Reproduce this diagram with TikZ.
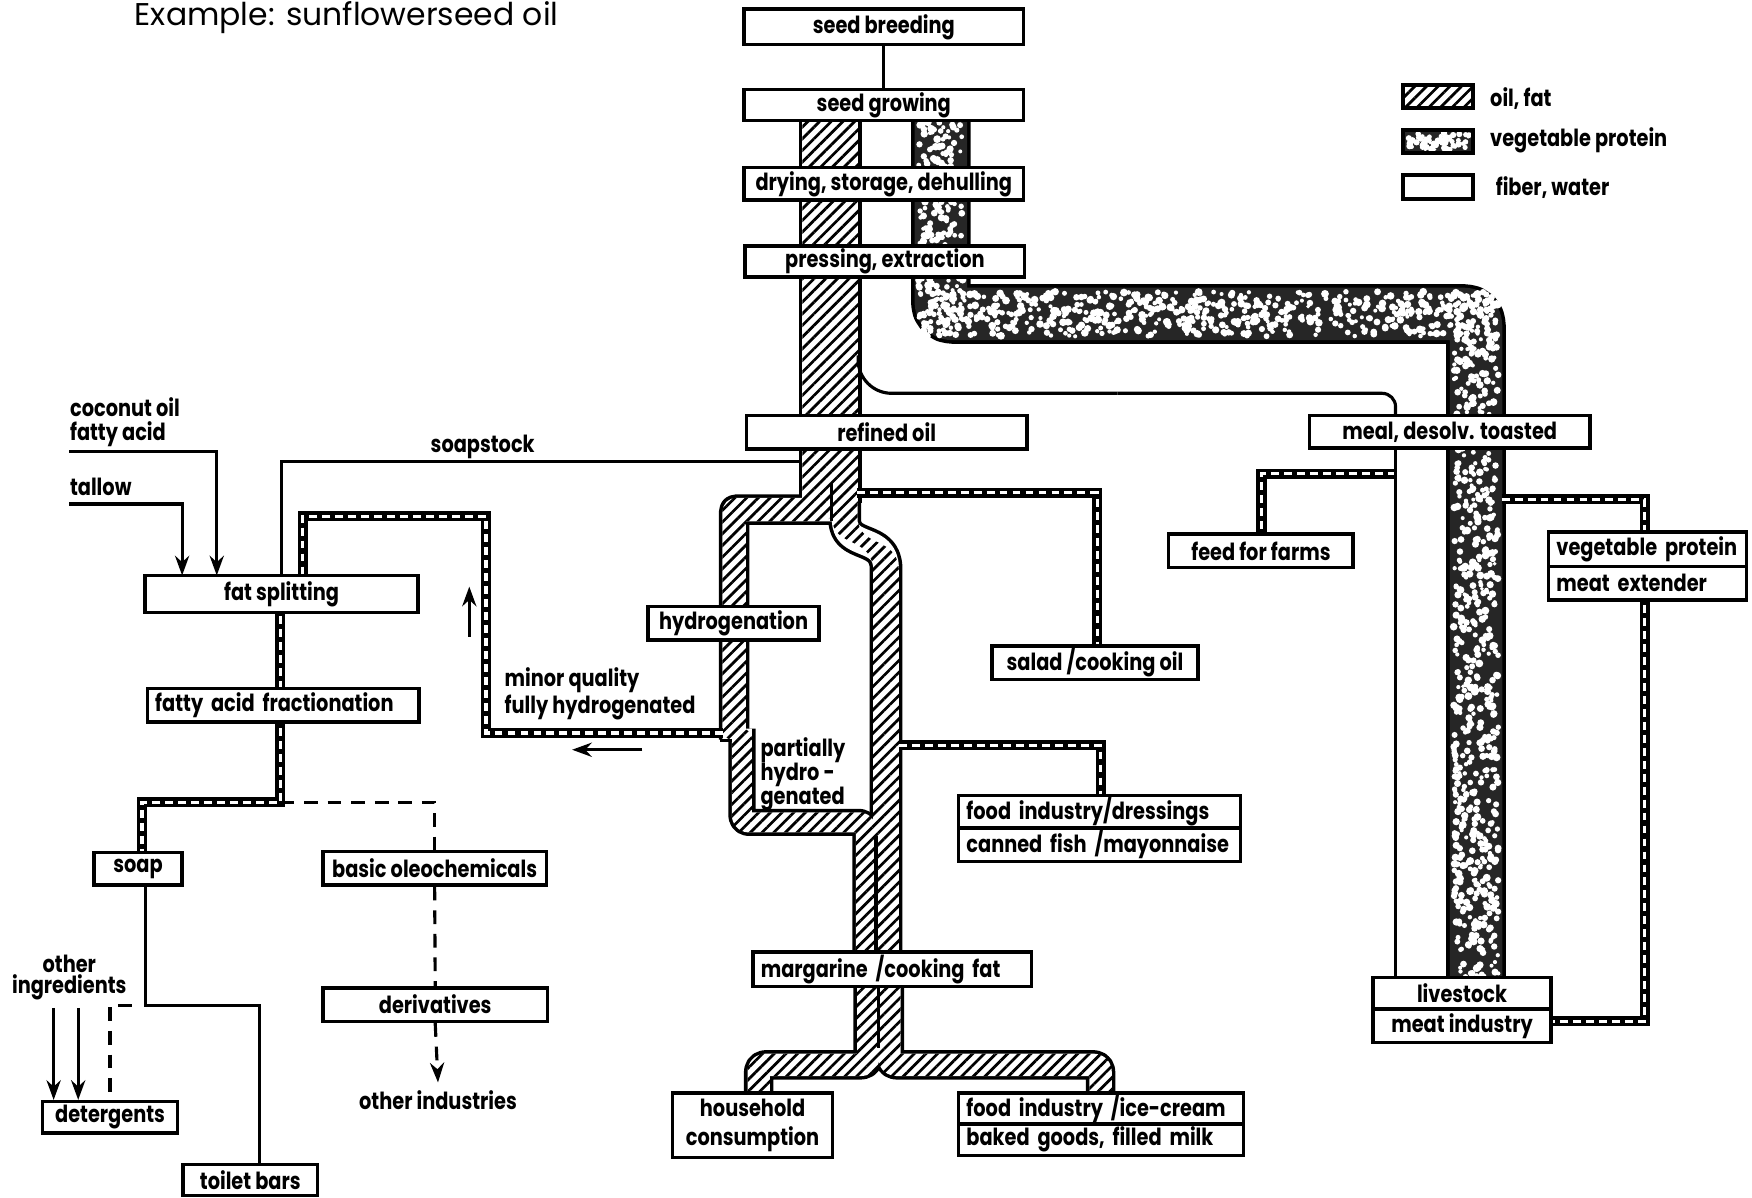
\documentclass[tikz,border=0pt]{standalone}
\usepackage{fontspec}
\setmainfont{Poppins}[FakeStretch=0.82]
\newfontfamily\titlefont{Poppins}[FakeStretch=1.0]
\usetikzlibrary{
  arrows.meta,
  patterns.meta
}

\tikzset{
  box/.style={draw, line width=0.9pt, fill=white, inner sep=0pt,
    font=\fontsize{6}{7}\selectfont\bfseries},
  lbox/.style={box, align=left, inner xsep=2pt},
  lbl/.style={inner sep=0pt, font=\fontsize{6}{7}\selectfont\bfseries},
  conn/.style={line width=0.8pt},
  dashline/.style={line width=0.8pt, dash pattern=on 3.5pt off 2.5pt},
  arr/.style={-{Stealth[length=5pt, width=3.6pt]}},
  thinband/.style={line width=0.09cm,
    postaction={draw=white, line width=0.03cm, dash pattern=on 2pt off 1.3pt}},
  bandedge/.style={line width={#1*0.01cm+1.8pt}, line join=round},
  bandfill/.style={line width={#1*0.01cm}, line join=round},
  oilhatch/.style={pattern={Lines[angle=45, distance=2.1pt, line width=0.7pt]}},
  speck/.style={white}
}

\begin{document}
\begin{tikzpicture}[x=0.01cm, y=-0.01cm]
  \useasboundingbox (0,0) rectangle (1568,1072);

  % wide bands: width/corner/path
  \def\oilbands{%
    50/0.01/{(743,100) -- (743,450)},
    23/0.03/{(756,440) -- (756,462) .. controls (756,492) and (793,478) .. (793,512) -- (793,860)},
    21/0.02/{(745,456) -- (657,456) -- (657,662)},
    18/0.06/{(664,652) -- (664,736) -- (775,736) -- (775,860)},
    20/0.06/{(777,875) -- (777,953) -- (679,953) -- (679,990)},
    20/0.06/{(796,875) -- (796,953) -- (985,953) -- (985,990)}%
  }
  \def\protband{(842,100) -- (842,281) -- (1321,281) -- (1321,885)}

  % outlines first, then insides
  \foreach \w/\r/\p in \oilbands {\draw[bandedge=\w, rounded corners=\r cm] \p;}
  \draw[bandedge=47, rounded corners=0.1cm] \protband;
  \foreach \w/\r/\p in \oilbands {\draw[bandfill=\w, white, rounded corners=\r cm] \p;}
  \draw[bandfill=47, black!85, rounded corners=0.1cm] \protband;

  % hatching of oil, fat
  \begin{scope}
    \clip (718,100) rectangle (768,450)
      (744.5,440) rectangle (767.5,462)
      (744.5,462) .. controls (744.5,492) and (781.5,478) .. (781.5,512)
        -- (804.5,512) .. controls (804.5,478) and (767.5,492) .. (767.5,462) -- cycle
      (781.5,510) rectangle (804.5,860)
      [rounded corners=0.09cm]
      (646.5,445.5) rectangle (745,466.5)
      (646.5,445.5) rectangle (667.5,662)
      (655,652) rectangle (673,745)
      (655,727) rectangle (784,745)
      (766,727) rectangle (784,860)
      (767,875) rectangle (787,963)
      (669,943) rectangle (787,963)
      (669,943) rectangle (689,990)
      (786,875) rectangle (806,963)
      (786,943) rectangle (995,963)
      (975,943) rectangle (995,990);
    \fill[oilhatch] (600,90) rectangle (1010,1000);
  \end{scope}

  % speckles of vegetable protein
  \pgfmathsetseed{11}
  \foreach \k in {1,...,240} {\fill[speck] ({822+40*rnd},{103+198*rnd}) circle ({(0.5+0.5*rnd)*1pt});}
  \foreach \k in {1,...,600} {\fill[speck] ({822+519*rnd},{261+40*rnd}) circle ({(0.5+0.5*rnd)*1pt});}
  \foreach \k in {1,...,700} {\fill[speck] ({1301+40*rnd},{261+620*rnd}) circle ({(0.5+0.5*rnd)*1pt});}

  % dividers
  \draw[conn] (744,432) -- (744,466);
  \draw[conn] (644,663) -- (655,663);
  \draw[conn] (784,748) -- (784,852);
  \draw[conn] (786,883) -- (786,938);

  % narrow bands
  \draw[thinband] (767,441) -- (982,441) -- (982,585);
  \draw[thinband] (805,667) -- (985,667) -- (985,718);
  \draw[thinband] (647,656) -- (435,656) -- (435,462) -- (271,462) -- (271,520);
  \draw[thinband] (251,540) -- (251,622);
  \draw[thinband] (251,640) -- (251,718) -- (127,718) -- (127,770);
  \draw[thinband] (1249,424) -- (1129,424) -- (1129,484);
  \draw[thinband] (1344,447) -- (1472,447) -- (1472,482);
  \draw[thinband] (1472,530) -- (1472,914) -- (1384,914);

  % boxes
  \node[box, minimum width=2.5cm, minimum height=0.32cm] (sbreed) at (791,24) {seed breeding};
  \node[box, minimum width=2.5cm, minimum height=0.28cm] (sgrow) at (791,94) {seed growing};
  \node[box, minimum width=2.5cm, minimum height=0.29cm] (dry) at (791,164.5) {drying, storage, dehulling};
  \node[box, minimum width=2.5cm, minimum height=0.28cm] (press) at (792,234) {pressing, extraction};
  \node[box, minimum width=2.51cm, minimum height=0.3cm] (refoil) at (793.5,387) {refined oil};
  \node[box, minimum width=2.51cm, minimum height=0.29cm] (meal) at (1297.5,386.5) {meal, desolv. toasted};
  \node[box, minimum width=1.65cm, minimum height=0.3cm] (feed) at (1128.5,493) {feed for farms};
  \node[lbox, text width=1.63cm, minimum height=0.31cm] (vegp) at (1474.5,491.5) {vegetable protein};
  \node[lbox, text width=1.63cm, minimum height=0.3cm] (meatx) at (1474.5,522) {meat extender};
  \node[box, minimum width=1.84cm, minimum height=0.3cm] (salad) at (980,593) {salad /cooking oil};
  \node[lbox, text width=2.38cm, minimum height=0.29cm] (fdress) at (984,726.5) {food industry/dressings};
  \node[lbox, text width=2.38cm, minimum height=0.3cm] (canned) at (984,756) {canned fish /mayonnaise};
  \node[box, minimum width=1.53cm, minimum height=0.3cm] (hydro) at (656.5,558) {hydrogenation};
  \node[lbox, text width=2.35cm, minimum height=0.31cm] (marg) at (798.5,867.5) {margarine /cooking fat};
  \node[box, align=center, font=\fontsize{6}{7.4}\selectfont\bfseries,
    minimum width=1.43cm, minimum height=0.58cm] (house) at (673.5,1007) {household\\consumption};
  \node[lbox, text width=2.41cm, minimum height=0.28cm] (fice) at (985.5,992) {food industry /ice-cream};
  \node[lbox, text width=2.41cm, minimum height=0.28cm] (baked) at (985.5,1020) {baked goods, filled milk};
  \node[box, minimum width=1.59cm, minimum height=0.28cm] (live) at (1308.5,889) {livestock};
  \node[box, minimum width=1.59cm, minimum height=0.3cm] (meatind) at (1308.5,918) {meat industry};
  \node[box, minimum width=2.44cm, minimum height=0.33cm] (fsplit) at (252,531.5) {fat splitting};
  \node[lbox, text width=2.29cm, minimum height=0.3cm] (fafrac) at (253.5,631) {fatty acid fractionation};
  \node[box, minimum width=0.79cm, minimum height=0.29cm] (soap) at (123.5,777.5) {soap};
  \node[box, minimum width=2.0cm, minimum height=0.3cm] (basic) at (389,777) {basic oleochemicals};
  \node[box, minimum width=2.01cm, minimum height=0.3cm] (deriv) at (389.5,899) {derivatives};
  \node[box, minimum width=1.21cm, minimum height=0.28cm] (deterg) at (98.5,1000) {detergents};
  \node[box, minimum width=1.2cm, minimum height=0.28cm] (toilet) at (224,1056) {toilet bars};

  % texts
  \node[lbl, anchor=base west, font=\titlefont\fontsize{8}{10}\selectfont] (title) at (120,23) {Example: sunflowerseed oil};
  \node[lbl, anchor=west, align=left, font=\fontsize{6}{6}\selectfont\bfseries] (coco) at (62,378) {coconut oil\\fatty acid};
  \node[lbl, anchor=west] (tallow) at (62,436) {tallow};
  \node[lbl] (sstocklbl) at (432,400) {soapstock};
  \node[lbl, anchor=west, align=left, font=\fontsize{6}{6.8}\selectfont\bfseries] (minorlbl) at (451,621) {minor quality\\fully hydrogenated};
  \node[lbl, anchor=west, align=left, font=\fontsize{6}{6.1}\selectfont\bfseries] (partlbl) at (680,693) {partially\\hydro -\\genated};
  \node[lbl, align=center, font=\fontsize{6}{5.3}\selectfont\bfseries] (oinglbl) at (62,875) {other\\ingredients};
  \node[lbl] (othind) at (392,985) {other industries};

  % connectors
  \coordinate (cocoin) at (62,404);
  \coordinate (cocoend) at (194,515);
  \coordinate (tallin) at (62,451);
  \coordinate (tallend) at (163,515);
  \coordinate (sstock0) at (718,413);
  \coordinate (fib0) at (768,318);
  \coordinate (fibx) at (1249,352);
  \coordinate (fajoin) at (251,718);
  \coordinate (sjoin) at (130,900);
  \coordinate (toiletin) at (232,1042);
  \coordinate (oi1) at (48,902);
  \coordinate (oi2) at (70,902);
  \coordinate (upA) at (420,570);
  \coordinate (upB) at (420,525);
  \coordinate (leftA) at (575,671);
  \coordinate (leftB) at (512,671);

  \draw[conn] (sbreed) -- (sgrow);
  \draw[conn, arr] (cocoin) -| (cocoend);
  \draw[conn, arr] (tallin) -| (tallend);
  \draw[conn] (sstock0) -| (fsplit.north);
  \draw[conn, rounded corners=0.3cm] (fib0) |- (1000,352);
  \draw[conn, rounded corners=0.12cm] (1000,352) -| (meal.north -| fibx);
  \draw[conn] (meal.south -| fibx) -- (live.north -| fibx);
  \draw[conn, arr] (upA) -- (upB);
  \draw[conn, arr] (leftA) -- (leftB);
  \draw[dashline] (fajoin) -| (basic.north);
  \draw[dashline] (basic.south) -- (deriv.north);
  \draw[dashline, arr] (deriv.south) -- ([yshift=2pt]othind.north);
  \draw[conn] (soap.south -| sjoin) -- (sjoin) -| (toiletin);
  \draw[dashline] ([xshift=-0.12cm]sjoin) -| (deterg.north);
  \draw[conn, arr] (oi1) -- (oi1 |- deterg.north);
  \draw[conn, arr] (oi2) -- (oi2 |- deterg.north);

  % legend
  \draw[line width=1pt, oilhatch] (1256,76) rectangle (1318,97);
  \fill[black!85] (1256,116) rectangle (1318,137);
  \foreach \k in {1,...,70} {\fill[speck] ({1259+56*rnd},{119+15*rnd}) circle ({(0.45+0.45*rnd)*1pt});}
  \draw[line width=1pt] (1256,116) rectangle (1318,137);
  \draw[line width=1pt] (1256,157) rectangle (1318,178);
  \node[lbl, anchor=west] (lgoil) at (1333,88) {oil, fat};
  \node[lbl, anchor=west] (lgprot) at (1333,126) {vegetable protein};
  \node[lbl, anchor=west] (lgfib) at (1338,168) {fiber, water};
\end{tikzpicture}
\end{document}
